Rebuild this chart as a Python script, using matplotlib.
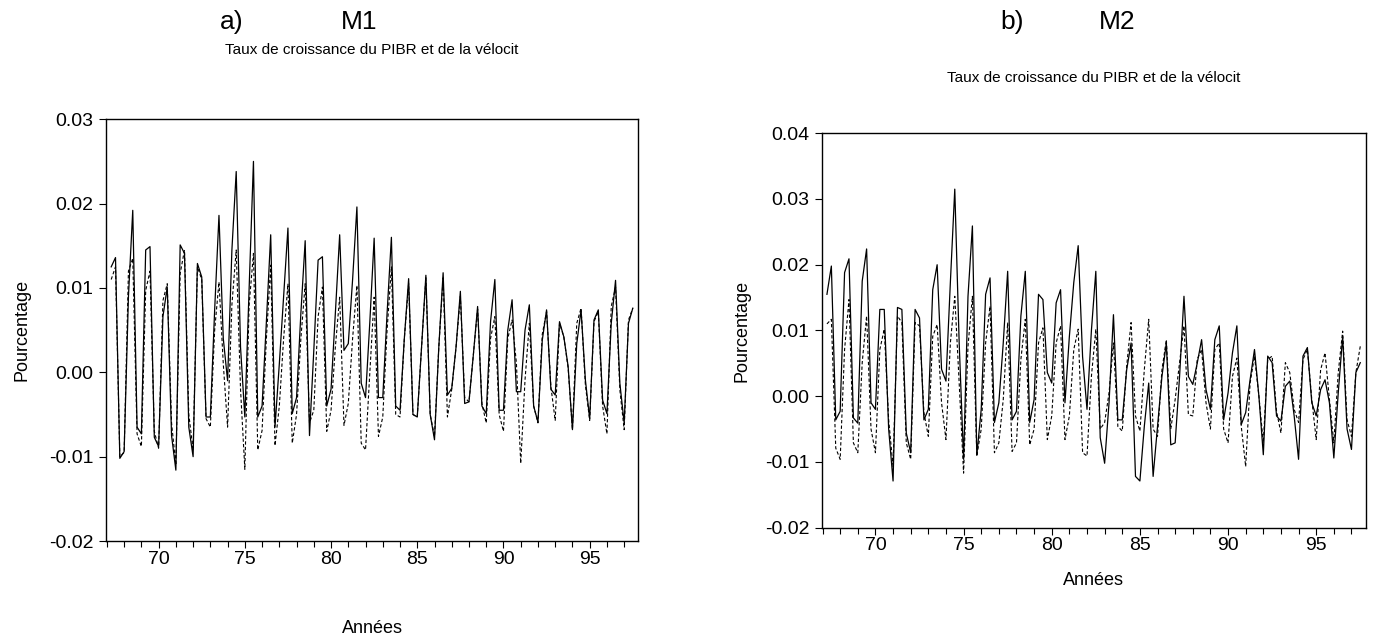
import numpy as np
import matplotlib
matplotlib.use("Agg")
import matplotlib.pyplot as plt
from matplotlib.ticker import MultipleLocator, FormatStrFormatter

plt.rcParams["font.family"] = ["Liberation Sans", "DejaVu Sans"]
plt.rcParams["axes.unicode_minus"] = False

# quarterly obs, 1967Q2 .. 1997Q3 (years shown as 67..97)
start_year = 67.25
n_obs = 122

# panel a) M1 : solid = PIBR, dashed = velocity
m1_pibr = [
    0.0125, 0.0136, -0.0102, -0.0094, 0.0090, 0.0192, -0.0065, -0.0073, 0.0145, 0.0149,
    -0.0077, -0.0088, 0.0066, 0.0101, -0.0075, -0.0116, 0.0151, 0.0141, -0.0065, -0.0100,
    0.0129, 0.0113, -0.0053, -0.0053, 0.0074, 0.0186, 0.0040, -0.0010, 0.0145, 0.0238,
    0.0030, -0.0053, 0.0100, 0.0250, -0.0053, -0.0040, 0.0060, 0.0163, -0.0065, 0.0010,
    0.0090, 0.0171, -0.0049, -0.0030, 0.0070, 0.0156, -0.0075, 0.0026, 0.0133, 0.0137,
    -0.0040, -0.0020, 0.0070, 0.0163, 0.0026, 0.0034, 0.0110, 0.0196, -0.0013, -0.0030,
    0.0060, 0.0159, -0.0030, -0.0030, 0.0070, 0.0160, -0.0040, -0.0045, 0.0040, 0.0111,
    -0.0050, -0.0053, 0.0030, 0.0115, -0.0050, -0.0080, 0.0030, 0.0118, -0.0027, -0.0019,
    0.0030, 0.0096, -0.0037, -0.0035, 0.0020, 0.0078, -0.0040, -0.0049, 0.0060, 0.0110,
    -0.0045, -0.0045, 0.0050, 0.0086, -0.0023, -0.0023, 0.0050, 0.0080, -0.0040, -0.0059,
    0.0038, 0.0074, -0.0020, -0.0027, 0.0060, 0.0042, 0.0007, -0.0068, 0.0034, 0.0074,
    -0.0009, -0.0055, 0.0062, 0.0074, -0.0033, -0.0049, 0.0058, 0.0109, -0.0013, -0.0060,
    0.0058, 0.0076,
]
m1_veloc = [
    0.0110, 0.0125, -0.0100, -0.0095, 0.0120, 0.0135, -0.0073, -0.0088, 0.0097, 0.0120,
    -0.0070, -0.0090, 0.0085, 0.0105, -0.0060, -0.0110, 0.0117, 0.0145, -0.0050, -0.0092,
    0.0125, 0.0110, -0.0055, -0.0065, 0.0050, 0.0107, 0.0010, -0.0065, 0.0080, 0.0145,
    -0.0020, -0.0115, 0.0080, 0.0141, -0.0092, -0.0069, 0.0040, 0.0127, -0.0087, -0.0040,
    0.0040, 0.0105, -0.0084, -0.0050, 0.0040, 0.0105, -0.0060, -0.0045, 0.0066, 0.0101,
    -0.0070, -0.0045, 0.0030, 0.0089, -0.0063, -0.0037, 0.0040, 0.0103, -0.0084, -0.0092,
    0.0000, 0.0089, -0.0076, -0.0053, 0.0050, 0.0125, -0.0050, -0.0053, 0.0040, 0.0105,
    -0.0050, -0.0053, 0.0030, 0.0112, -0.0050, -0.0076, 0.0030, 0.0112, -0.0053, -0.0020,
    0.0030, 0.0090, -0.0030, -0.0035, 0.0020, 0.0075, -0.0037, -0.0060, 0.0040, 0.0066,
    -0.0050, -0.0070, 0.0040, 0.0062, 0.0011, -0.0108, -0.0009, 0.0058, -0.0040, -0.0060,
    0.0045, 0.0072, -0.0017, -0.0057, 0.0058, 0.0042, 0.0005, -0.0068, 0.0058, 0.0076,
    -0.0015, -0.0057, 0.0060, 0.0072, -0.0040, -0.0073, 0.0078, 0.0101, -0.0021, -0.0068,
    0.0062, 0.0076,
]

# panel b) M2
m2_pibr = [
    0.0155, 0.0198, -0.0036, -0.0023, 0.0188, 0.0209, -0.0033, -0.0041, 0.0175, 0.0224,
    -0.0010, -0.0020, 0.0132, 0.0132, -0.0050, -0.0129, 0.0135, 0.0132, -0.0056, -0.0086,
    0.0132, 0.0119, -0.0036, -0.0020, 0.0162, 0.0200, 0.0041, 0.0023, 0.0173, 0.0315,
    0.0081, -0.0096, 0.0152, 0.0259, -0.0090, -0.0020, 0.0155, 0.0180, -0.0040, -0.0010,
    0.0081, 0.0190, -0.0036, -0.0023, 0.0122, 0.0190, -0.0040, -0.0005, 0.0155, 0.0147,
    0.0036, 0.0020, 0.0142, 0.0162, -0.0010, 0.0091, 0.0173, 0.0229, 0.0060, -0.0020,
    0.0100, 0.0190, -0.0063, -0.0102, -0.0010, 0.0124, -0.0036, -0.0036, 0.0040, 0.0081,
    -0.0122, -0.0129, -0.0046, 0.0020, -0.0122, -0.0046, 0.0030, 0.0081, -0.0074, -0.0071,
    0.0030, 0.0152, 0.0030, 0.0018, 0.0050, 0.0086, 0.0010, -0.0020, 0.0086, 0.0107,
    -0.0036, 0.0005, 0.0066, 0.0107, -0.0043, -0.0025, 0.0025, 0.0071, 0.0000, -0.0089,
    0.0061, 0.0051, -0.0030, -0.0038, 0.0015, 0.0023, -0.0030, -0.0096, 0.0061, 0.0074,
    -0.0010, -0.0030, 0.0010, 0.0025, -0.0010, -0.0094, 0.0005, 0.0091, -0.0050, -0.0081,
    0.0036, 0.0051,
]
m2_veloc = [
    0.0110, 0.0117, -0.0079, -0.0096, 0.0071, 0.0147, -0.0071, -0.0086, 0.0051, 0.0122,
    -0.0050, -0.0086, 0.0071, 0.0102, -0.0036, -0.0107, 0.0122, 0.0112, -0.0071, -0.0096,
    0.0112, 0.0107, -0.0025, -0.0061, 0.0091, 0.0109, -0.0010, -0.0066, 0.0081, 0.0152,
    0.0020, -0.0117, 0.0076, 0.0152, -0.0091, -0.0050, 0.0081, 0.0137, -0.0086, -0.0071,
    -0.0005, 0.0112, -0.0084, -0.0071, 0.0056, 0.0117, -0.0074, -0.0050, 0.0081, 0.0104,
    -0.0066, -0.0030, 0.0081, 0.0107, -0.0066, -0.0030, 0.0071, 0.0102, -0.0086, -0.0091,
    0.0030, 0.0102, -0.0050, -0.0040, 0.0005, 0.0081, -0.0046, -0.0053, 0.0046, 0.0112,
    -0.0030, -0.0053, 0.0040, 0.0117, -0.0050, -0.0061, 0.0040, 0.0086, -0.0050, -0.0005,
    0.0051, 0.0107, -0.0028, -0.0030, 0.0056, 0.0071, -0.0010, -0.0050, 0.0071, 0.0081,
    -0.0050, -0.0071, 0.0030, 0.0058, -0.0046, -0.0107, 0.0020, 0.0061, 0.0000, -0.0071,
    0.0056, 0.0061, -0.0023, -0.0056, 0.0051, 0.0036, -0.0020, -0.0040, 0.0056, 0.0071,
    -0.0005, -0.0066, 0.0040, 0.0066, -0.0005, -0.0071, 0.0036, 0.0099, -0.0036, -0.0061,
    0.0036, 0.0076,
]

years = start_year + 0.25 * np.arange(n_obs)

fig = plt.figure(figsize=(13.77, 6.41), dpi=100)

panels = [
    dict(rect=[0.077, 0.156, 0.3863, 0.658], pibr=m1_pibr, veloc=m1_veloc,
         ylim=(-0.02, 0.03), letter="a)", name="M1",
         lx=0.168, nx=0.261, sub_y=0.922, xlab_y=0.02, ylab_x=0.016),
    dict(rect=[0.5967, 0.1768, 0.395, 0.6153], pibr=m2_pibr, veloc=m2_veloc,
         ylim=(-0.02, 0.04), letter="b)", name="M2",
         lx=0.735, nx=0.811, sub_y=0.878, xlab_y=0.095, ylab_x=0.539),
]

subtitle = "Taux de croissance du PIBR et de la vélocit"

for p in panels:
    ax = fig.add_axes(p["rect"])
    ax.plot(years, p["pibr"], color="black", linewidth=0.9)
    ax.plot(years, p["veloc"], color="black", linewidth=0.8, linestyle=(0, (3, 2)))
    ax.set_xlim(66.95, 97.8)
    ax.set_ylim(*p["ylim"])
    ax.xaxis.set_minor_locator(MultipleLocator(1))
    ax.set_xticks([70, 75, 80, 85, 90, 95])
    ax.yaxis.set_major_locator(MultipleLocator(0.01))
    ax.yaxis.set_major_formatter(FormatStrFormatter("%.2f"))
    ax.tick_params(axis="both", labelsize=14, direction="out", length=5, width=0.8, pad=2)
    ax.tick_params(axis="x", which="minor", direction="out", length=4, width=0.8)
    ax.tick_params(axis="y", pad=4)
    for s in ax.spines.values():
        s.set_linewidth(1.0)

    cx = p["rect"][0] + p["rect"][2] / 2
    fig.text(p["lx"], 0.965, p["letter"], fontsize=19, ha="center", va="center")
    fig.text(p["nx"], 0.965, p["name"], fontsize=19, ha="center", va="center")
    fig.text(cx, p["sub_y"], subtitle, fontsize=11, ha="center", va="center")
    fig.text(cx, p["xlab_y"], "Années", fontsize=13, ha="center", va="center")
    fig.text(p["ylab_x"], p["rect"][1] + p["rect"][3] / 2, "Pourcentage",
             fontsize=13, rotation=90, ha="center", va="center")

fig.savefig("out.png", dpi=100)
